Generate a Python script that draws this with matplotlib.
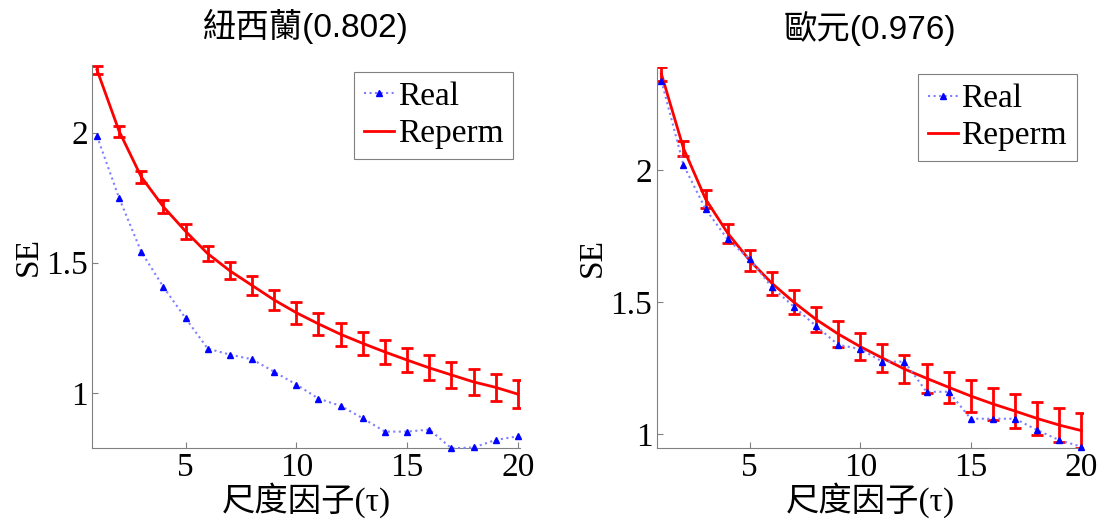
import numpy as np
import matplotlib.pyplot as plt
from matplotlib.lines import Line2D

# 尺度因子
tau = np.arange(1, 21)

# 紐西蘭
nz_real = [1.987, 1.749, 1.542, 1.407, 1.287, 1.170, 1.147, 1.129, 1.081, 1.032,
           0.978, 0.950, 0.902, 0.851, 0.851, 0.859, 0.787, 0.790, 0.819, 0.833]
nz_reperm = [2.242, 2.006, 1.830, 1.715, 1.621, 1.535, 1.469, 1.413, 1.357, 1.308,
             1.265, 1.225, 1.190, 1.157, 1.126, 1.096, 1.069, 1.042, 1.021, 0.995]
nz_err = [0.015, 0.021, 0.023, 0.025, 0.029, 0.030, 0.033, 0.036, 0.038, 0.042,
          0.043, 0.044, 0.045, 0.046, 0.047, 0.048, 0.050, 0.051, 0.052, 0.054]

# 歐元
eu_real = [2.338, 2.019, 1.852, 1.737, 1.662, 1.556, 1.482, 1.409, 1.338, 1.322,
           1.274, 1.274, 1.160, 1.160, 1.058, 1.058, 1.058, 1.015, 0.977, 0.952]
eu_reperm = [2.364, 2.082, 1.890, 1.761, 1.657, 1.571, 1.499, 1.434, 1.379, 1.331,
             1.288, 1.246, 1.211, 1.177, 1.144, 1.114, 1.087, 1.059, 1.034, 1.013]
eu_err = [0.025, 0.029, 0.033, 0.036, 0.041, 0.043, 0.045, 0.047, 0.049, 0.050,
          0.052, 0.054, 0.056, 0.058, 0.061, 0.062, 0.063, 0.064, 0.064, 0.065]

titles = ['紐西蘭(0.802)', '歐元(0.976)']
ylims = [(0.788, 2.26), (0.947, 2.39)]

serif = ['Liberation Serif', 'Noto Sans CJK TC']
sans = ['Liberation Sans', 'Noto Sans CJK TC']
fs = 24

fig = plt.figure(figsize=(11.09, 5.24), dpi=100)
axes = [fig.add_axes([0.083, 0.145, 0.386, 0.731]),
        fig.add_axes([0.592, 0.145, 0.385, 0.727])]

data = [(nz_real, nz_reperm, nz_err), (eu_real, eu_reperm, eu_err)]

for ax, (real, reperm, err), title, ylim in zip(axes, data, titles, ylims):
    ax.plot(tau, real, linestyle=':', color='#7f7fff', lw=1.5,
            marker='^', markersize=5, markerfacecolor='blue',
            markeredgecolor='blue', zorder=3, clip_on=False)
    ax.errorbar(tau, reperm, yerr=err, color='red', lw=2, elinewidth=2,
                capsize=4, capthick=2, zorder=2)
    ax.set_xlim(0.78, 20.1)
    ax.set_ylim(*ylim)
    ax.set_xticks([5, 10, 15, 20])
    ax.set_yticks([1, 1.5, 2])
    ax.set_yticklabels(['1', '1.5', '2'])
    for s in ['top', 'right']:
        ax.spines[s].set_visible(False)
    for s in ['left', 'bottom']:
        ax.spines[s].set_color('#808080')
        ax.spines[s].set_linewidth(0.8)
    ax.tick_params(direction='in', length=4, color='#808080', labelsize=fs, pad=3)
    for lab in ax.get_xticklabels() + ax.get_yticklabels():
        lab.set_fontfamily(serif)
    ax.set_xlabel('尺度因子(τ)', fontsize=fs, family=serif, labelpad=0)
    ax.set_ylabel('SE', fontsize=fs, family=serif, labelpad=2)
    ax.set_title(title, fontsize=fs, family=sans, pad=20)

    handles = [Line2D([], [], linestyle=':', color='#7f7fff', lw=1.5, marker='^',
                      markersize=5, markerfacecolor='blue', markeredgecolor='blue'),
               Line2D([], [], color='red', lw=2)]
    leg = ax.legend(handles, ['Real', 'Reperm'], loc='upper right',
                    prop={'family': serif, 'size': fs}, fancybox=False,
                    edgecolor='#808080', handlelength=0.9, handletextpad=0.1,
                    borderpad=0.3, labelspacing=0.2, borderaxespad=0.2,
                    framealpha=1)
    leg.get_frame().set_linewidth(0.8)

fig.savefig('out.png', dpi=100)
